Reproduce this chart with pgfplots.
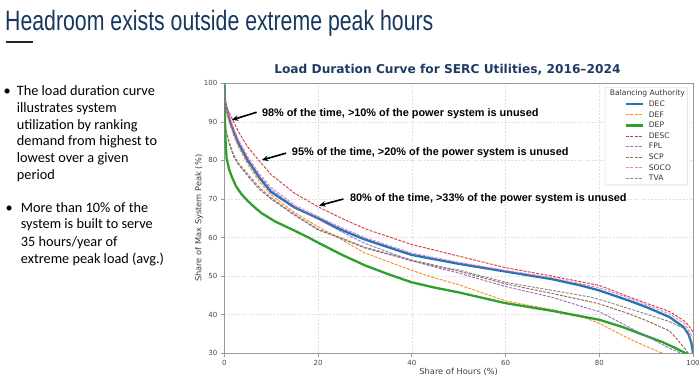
\documentclass[border=0pt]{standalone}
\usepackage{fontspec}
\usepackage{pgfplots}
\pgfplotsset{compat=1.18}
\usetikzlibrary{arrows.meta}
\setmainfont{Carlito}
\newfontfamily\dejavu{DejaVu Sans}
\newfontfamily\libsans{Liberation Sans}
\definecolor{navy}{HTML}{17375E}
\definecolor{ctitle}{HTML}{1F3B63}
\definecolor{cDEC}{HTML}{1F77B4}
\definecolor{cDEF}{HTML}{FF7F0E}
\definecolor{cDEP}{HTML}{2CA02C}
\definecolor{cDESC}{HTML}{D62728}
\definecolor{cFPL}{HTML}{9467BD}
\definecolor{cSCP}{HTML}{8C564B}
\definecolor{cSOCO}{HTML}{E377C2}
\definecolor{cTVA}{HTML}{7F7F7F}
\begin{document}
\begin{tikzpicture}
\path[use as bounding box] (0pt,0pt) rectangle (700pt,381pt);
\begin{scope}[x=1pt,y=1pt]
% slide title
\node[anchor=base west, inner sep=0, text=navy] at (5,350.3) {\scalebox{0.76}[1]{\libsans\fontsize{28}{30}\selectfont Headroom exists outside extreme peak hours}};
\draw[line width=2pt, color=black!85] (6,339.2) -- (33.3,339.2);
% bullets
\begingroup
\fontsize{14.3}{16}\selectfont
\node[anchor=base, inner sep=0] at (7.3,285.5) {•};
\node[anchor=base west, inner sep=0] at (16.7,285.5) {The load duration curve};
\node[anchor=base west, inner sep=0] at (16.7,268.75) {illustrates system};
\node[anchor=base west, inner sep=0] at (16.7,252) {utilization by ranking};
\node[anchor=base west, inner sep=0] at (16.7,235.25) {demand from highest to};
\node[anchor=base west, inner sep=0] at (16.7,218.5) {lowest over a given};
\node[anchor=base west, inner sep=0] at (16.7,201.75) {period};
\node[anchor=base, inner sep=0] at (9.3,168.8) {•};
\node[anchor=base west, inner sep=0] at (20.7,168.8) {More than 10\% of the};
\node[anchor=base west, inner sep=0] at (20.7,152.2) {system is built to serve};
\node[anchor=base west, inner sep=0] at (20.7,134.5) {35 hours/year of};
\node[anchor=base west, inner sep=0] at (20.7,117.8) {extreme peak load (avg.)};
\endgroup
% chart title
\node[anchor=center, inner sep=0, text=ctitle] at (447.4,311) {\dejavu\bfseries\fontsize{12.2}{14}\selectfont Load Duration Curve for SERC Utilities, 2016–2024};
\end{scope}
\begin{axis}[
  at={(224.3pt,27.7pt)}, anchor=south west, scale only axis,
  width=468.7pt, height=270pt,
  xmin=0, xmax=100, ymin=30, ymax=100,
  xtick={0,20,...,100}, ytick={30,40,...,100},
  grid=major, major grid style={dash pattern=on 2pt off 1.5pt, color=gray!25, line width=0.5pt},
  axis line style={color=gray!80, line width=0.8pt},
  tick style={color=gray!80, line width=0.6pt}, tick align=outside, major tick length=3.5pt,
  xtick pos=bottom, ytick pos=left,
  ticklabel style={font=\dejavu\fontsize{7}{8}\selectfont, color=black!72},
  /pgf/number format/assume math mode=true,
  xlabel={Share of Hours (\%)}, ylabel={Share of Max System Peak (\%)},
  label style={font=\dejavu\fontsize{8.3}{9}\selectfont, color=black!75},
  xlabel style={at={(axis description cs:0.5,-0.0704)}, anchor=center},
  ylabel style={at={(axis description cs:-0.054,0.5)}, anchor=center},
  legend cell align=left,
  legend image code/.code={\path (0pt,0pt) (38.7pt,0pt); \draw[#1] (17pt,0pt) -- (33.7pt,0pt);},
  legend style={at={(0.812,0.987)}, anchor=north west, draw=gray!30, rounded corners=2pt,
    line width=0.6pt, fill=white, font=\dejavu\fontsize{7.6}{8.5}\selectfont, text=black!80,
    inner xsep=2.7pt, inner ysep=2.8pt, row sep=3.1pt,
    nodes={inner sep=0pt, text height=6pt, text depth=1.5pt},
    /tikz/every even column/.append style={column sep=0pt}},
  dsh/.style={line width=0.95pt, dash pattern=on 3pt off 1.3pt, opacity=0.9},
  sol/.style={line width=2.3pt},
]
\addlegendimage{empty legend}
\addlegendentry{\hspace*{-39pt}Balancing Authority}
\addplot[cDEC, sol] coordinates {(0,100)(0.08,96)(0.3,94.5)(1,91)(2,87.5)(3,84.5)(5,80)(7.5,75.5)(10,71.8)(15,67.8)(20,65)(25,62)(30,59.5)(40,55.5)(50,53.2)(60,51.2)(70,49.2)(76,47.6)(80,46.3)(86,43.8)(90,42)(95,39.4)(98,36.8)(99,35)(99.6,33)(100,30)};
\addlegendentry{DEC}
\addplot[cDEF, dsh] coordinates {(0,100)(0.08,95)(0.3,93.5)(1,90)(2,86.5)(3,83.5)(5,79)(7.5,74.5)(10,71)(15,66.5)(20,62.8)(24,60.2)(30,56)(40,51.5)(45,49.5)(50,47.8)(60,43.6)(70,41.3)(76,39.6)(80,37.8)(86,34)(90,31.8)(93.5,30)(95,29)};
\addlegendentry{DEF}
\addplot[cDEP, sol] coordinates {(0,100)(0.15,90)(0.3,84)(0.5,80.5)(1,77.8)(1.6,75.8)(2.5,73.3)(3.7,71.2)(5,69.5)(6.5,67.8)(8,66.3)(10.8,64.2)(14.3,62.2)(18,60)(20,58.7)(25,55.6)(30,52.8)(35,50.5)(40,48.4)(45,47)(50,45.8)(60,43)(70,41)(80,38.7)(85,36.8)(90,34.5)(93.5,32.9)(96,31.5)(98.5,30)(99,29.5)};
\addlegendentry{DEP}
\addplot[cDESC, dsh] coordinates {(0,100)(0.08,96)(0.3,94.5)(1,92.5)(2,90)(3,87.5)(5,83.5)(7.5,79.8)(10,76.3)(15,71.5)(20,68)(25,65)(30,62.3)(40,58.2)(50,55.2)(60,52.2)(70,50)(80,47.6)(86,44.8)(90,43)(95,40.8)(98,38.5)(99,37.3)(100,35.5)};
\addlegendentry{DESC}
\addplot[cFPL, dsh] coordinates {(0,100)(0.08,96)(0.3,94.5)(1,91.5)(2,88)(3,85)(5,80.5)(7.5,76)(10,72.4)(15,68)(20,64.8)(25,61.5)(30,58.5)(40,54)(46,52)(50,50.8)(60,47.3)(70,44.5)(78,41.5)(80,40.8)(86,37)(90,34.5)(95,31.3)(97.5,30)(98,29.6)};
\addlegendentry{FPL}
\addplot[cSCP, dsh] coordinates {(0,100)(0.08,89.5)(0.3,88)(1,84.5)(2,81)(3,79)(5,76)(7.5,72.5)(10,70)(15,65.8)(20,62)(24,60.2)(30,57.3)(40,54)(48,51.8)(50,51.3)(60,48)(70,45.5)(78,43.4)(80,42.8)(86,40.4)(90,38.5)(95,35.8)(96.5,33.8)(98.4,31)(99,30)(99.3,29.5)};
\addlegendentry{SCP}
\addplot[cSOCO, dsh] coordinates {(0,100)(0.08,96)(0.3,94.5)(1,91.8)(2,88.3)(3,85.4)(5,81)(7.5,76.5)(10,73)(15,68.4)(20,65.5)(25,62.6)(30,60)(40,56)(50,53.6)(60,51.5)(70,49.6)(80,47)(86,44.5)(90,42.6)(95,40.2)(98,37.8)(99,36.3)(100,34)};
\addlegendentry{SOCO}
\addplot[cTVA, dsh] coordinates {(0,100)(0.08,90)(0.3,88.5)(1,85)(2,81.5)(3,79.3)(5,76.5)(7.5,73)(10,70.3)(15,66)(20,62.2)(24,60.4)(30,57.5)(40,54.2)(48,52)(50,51.6)(60,48.4)(70,46.3)(78,44.6)(80,44)(86,41.7)(90,40.2)(95,38.2)(98,36.5)(99,35.5)(99.7,33)(100,30)};
\addlegendentry{TVA}
% annotations
\begin{scope}[every node/.style={anchor=west, inner sep=0pt, font=\libsans\bfseries\fontsize{10.9}{12}\selectfont}]
\node at (axis cs:8.0,92.0) {98\% of the time, >10\% of the power system is unused};
\node at (axis cs:14.4,82.0) {95\% of the time, >20\% of the power system is unused};
\node at (axis cs:26.8,70.0) {80\% of the time, >33\% of the power system is unused};
\end{scope}
\draw[-{Stealth[length=6.5pt,width=5.5pt]}, line width=1.6pt] (axis cs:6.9,92.5) -- (axis cs:1.6,90.5);
\draw[-{Stealth[length=6.5pt,width=5.5pt]}, line width=1.6pt] (axis cs:13.2,81.9) -- (axis cs:8.0,80.1);
\draw[-{Stealth[length=6.5pt,width=5.5pt]}, line width=1.6pt] (axis cs:25.4,70.0) -- (axis cs:20.2,68.3);
\end{axis}
\end{tikzpicture}
\end{document}
